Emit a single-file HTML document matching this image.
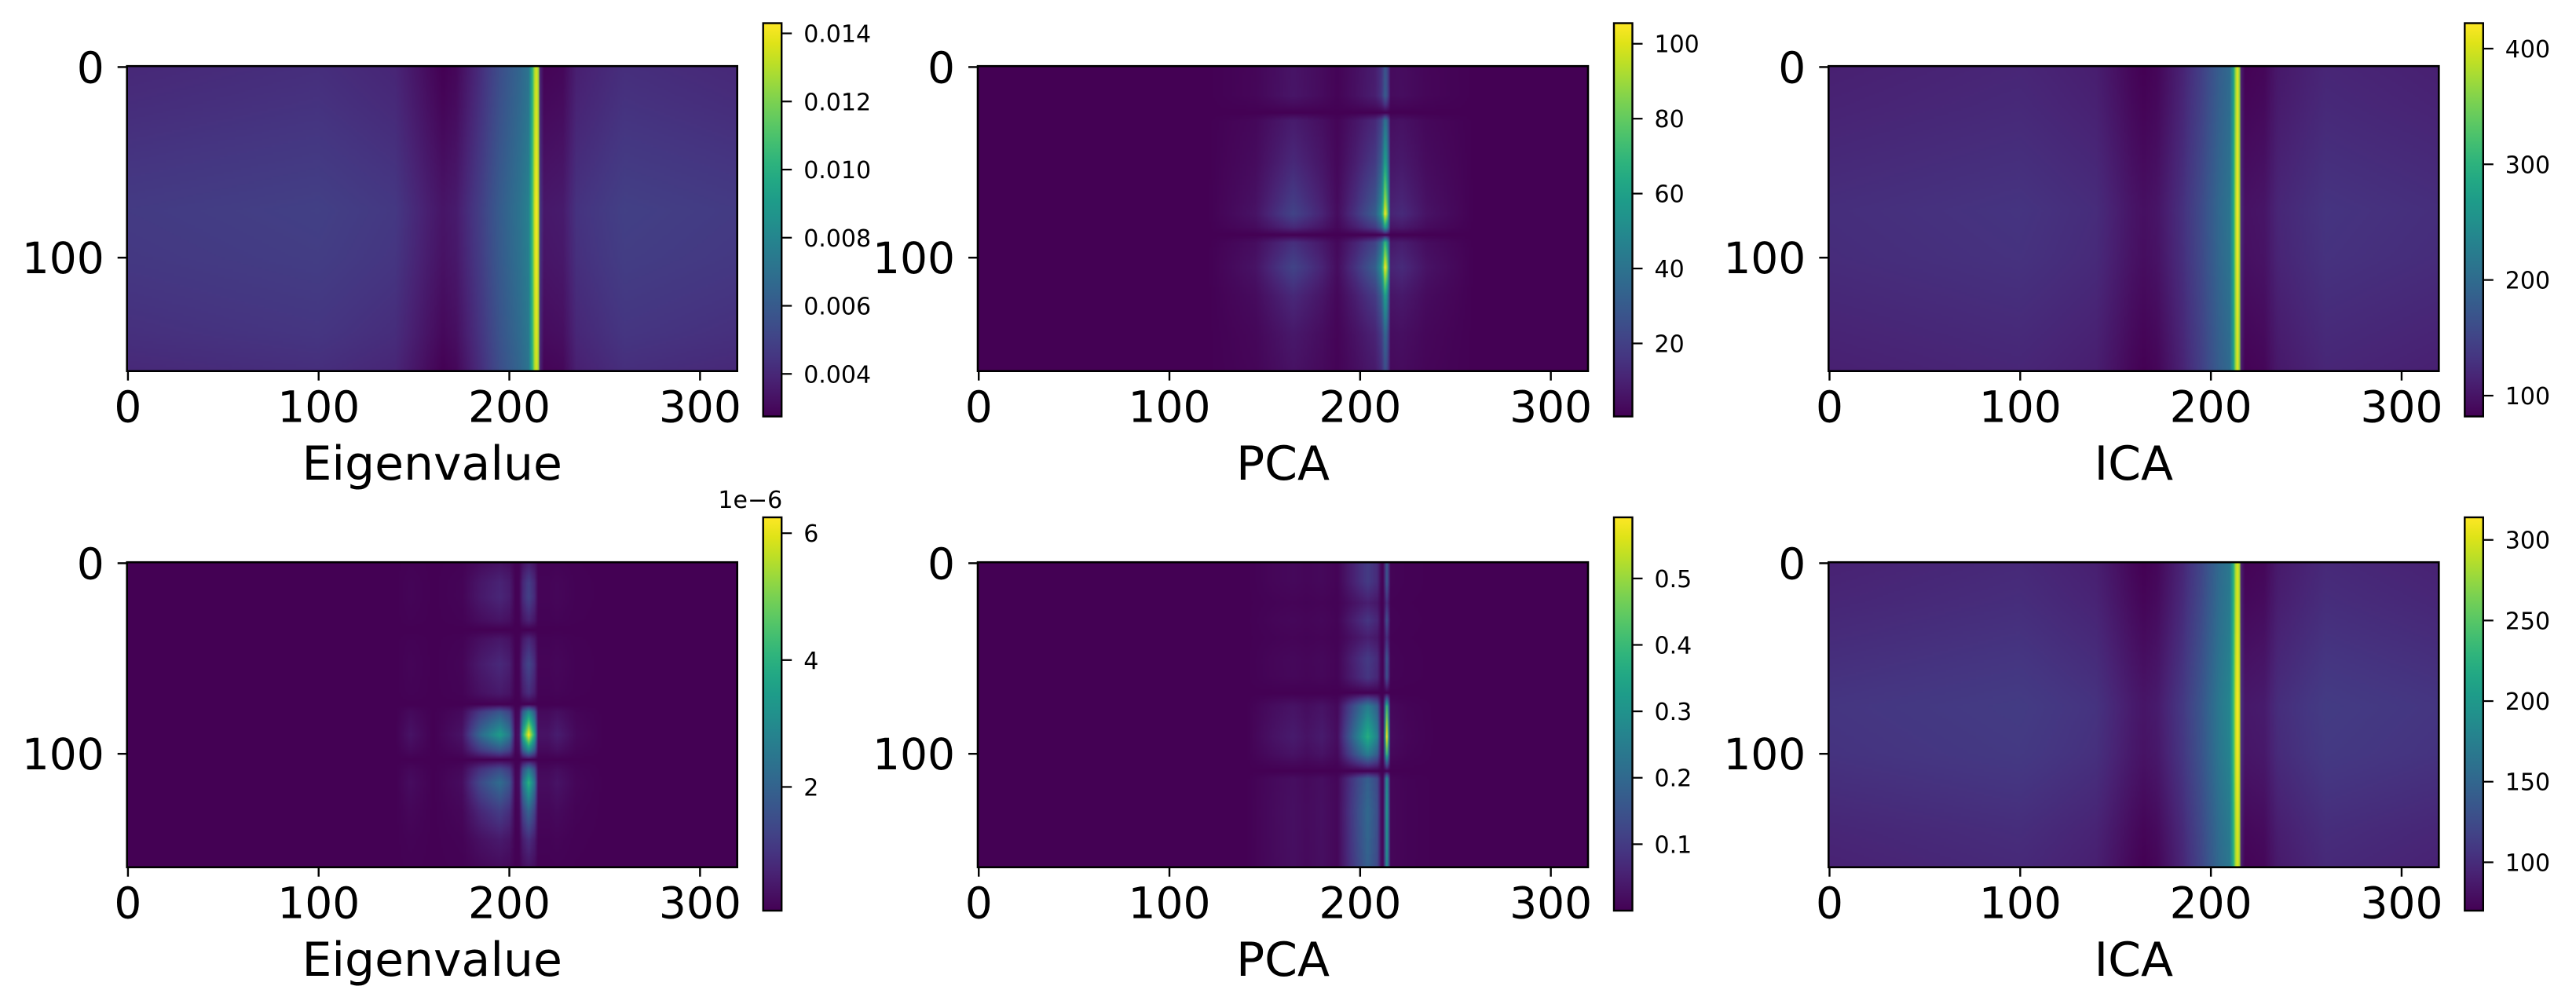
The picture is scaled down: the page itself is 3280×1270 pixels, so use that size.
<!DOCTYPE html>
<html>
<head>
<meta charset="utf-8">
<style>
  html,body{margin:0;padding:0;background:#fff;}
  #fig{position:relative;width:3280px;height:1270px;overflow:hidden;background:#fff;}
  canvas.hm{position:absolute;image-rendering:auto;}
  .cb{position:absolute;}
  svg#overlay{position:absolute;left:0;top:0;}
  text{font-family:"DejaVu Sans","Liberation Sans",sans-serif;fill:#000;}
</style>
</head>
<body>
<div id="fig">
  <svg id="overlay" width="3280" height="1270"></svg>
</div>
<script>
// ===== DATA (knot profiles) =====
// Panel 1: Eigenvalue (top) - additive model
const eigTopColX = [0,100,140,158,165,172,185,195,205,210,212,213,214,215,216,218,228,235,260,320];
const eigTopColV = [0.0044,0.0046,0.0043,0.0034,0.0031,0.0033,0.0046,0.0058,0.0068,0.0075,0.0105,0.0130,0.0140,0.0130,0.0042,0.0032,0.0033,0.0041,0.0046,0.0044];
const eigTopRowY = [0,20,75,100,140,160];
const eigTopRowV = [-0.00035,-0.0002,0.0003,0.0002,-0.0001,-0.00035];

// Panel 2: PCA (top) - multiplicative model
const pcaTopColX = [0,120,145,165,180,188,198,208,211,212,213,214,215,216,222,235,260,320];
const pcaTopColV = [0.0,0.0,0.05,0.2,0.1,0.03,0.15,0.3,0.5,0.7,1.0,0.85,0.5,0.1,0.12,0.05,0.0,0.0];
const pcaTopRowY = [0,15,20,24,28,50,70,77,84,88,92,105,120,140,160];
const pcaTopRowV = [28,30,15,0,40,60,90,105,60,0,70,105,60,35,25];

// Panel 3: ICA (top) - additive model
const icaTopColX = [0,100,140,158,165,172,185,195,205,210,212,213,214,215,216,218,228,235,260,320];
const icaTopColV = [118,124,116,94,88,93,120,150,190,205,280,370,414,370,112,90,93,110,124,118];
const icaTopRowY = [0,20,75,100,140,160];
const icaTopRowV = [-6,-3,8,6,-2,-6];

// Panel 4: Eigenvalue (bottom) - multiplicative model (units 1e-6)
const eigBotColX = [0,140,148,160,175,185,195,200,203,205,207,210,213,215,220,225,235,250,320];
const eigBotColV = [0,0,0.05,0,0.05,0.35,0.55,0.4,0.02,0.05,0.6,1.0,0.6,0.05,0.05,0.08,0.02,0,0];
const eigBotRowY = [0,10,18,30,35,40,53,68,74,78,90,98,103,108,115,130,145,160];
const eigBotRowV = [0.5,1.1,1.2,0.6,0,0.7,1.3,0.8,0,3,6.2,3,0,2.5,4,2,0.8,0.3];

// Panel 5: PCA (bottom) - multiplicative model
const pcaBotColX = [0,140,155,165,172,180,188,194,204,209,211,212,213,214,215,216,225,240,320];
const pcaBotColV = [0,0,0.08,0.12,0.08,0.12,0.05,0.4,1.0,0.7,0.1,0.05,0.8,1.6,0.8,0.05,0.02,0,0];
const pcaBotRowY = [0,10,21,30,39,50,60,68,75,91,100,109,113,130,150,160];
const pcaBotRowV = [0.1,0.1,0.05,0.09,0.05,0.1,0.09,0,0.25,0.37,0.25,0,0.18,0.2,0.19,0.18];

// Panel 6: ICA (bottom) - additive model
const icaBotColX = [0,100,140,158,165,172,185,195,205,210,212,213,214,215,216,218,228,235,260,320];
const icaBotColV = [98,103,96,80,75,79,100,125,160,172,230,285,305,285,93,77,79,92,103,98];
const icaBotRowY = [0,20,75,100,140,160];
const icaBotRowV = [-5,-2,9,7,-2,-5];

// Tick labels
const xTickVals = [0,100,200,300];
const yTickVals = [0,100];
const cbTicks1 = [0.004,0.006,0.008,0.010,0.012,0.014];
const cbTicks2 = [20,40,60,80,100];
const cbTicks3 = [100,200,300,400];
const cbTicks4 = [2,4,6];
const cbTicks5 = [0.1,0.2,0.3,0.4,0.5];
const cbTicks6 = [100,150,200,250,300];
const titles = ["Eigenvalue","PCA","ICA","Eigenvalue","PCA","ICA"];

// ===== RENDERING =====
const NX=320, NY=160;
const VIR=[[68,1,84],[71,19,101],[72,36,117],[69,53,129],[65,68,135],[59,82,139],[53,95,141],[47,108,142],[42,120,142],[37,132,142],[33,145,140],[30,156,137],[34,168,132],[47,180,124],[68,191,112],[94,201,98],[122,209,81],[155,217,60],[189,223,38],[223,227,24],[253,231,37]];
function viridis(t){
  t=Math.max(0,Math.min(1,t));
  const f=t*(VIR.length-1), i=Math.min(VIR.length-2,Math.floor(f)), u=f-i;
  const a=VIR[i],b=VIR[i+1];
  return [a[0]+(b[0]-a[0])*u,a[1]+(b[1]-a[1])*u,a[2]+(b[2]-a[2])*u];
}
function prof(xs,vs,x){
  if(x<=xs[0]) return vs[0];
  for(let k=1;k<xs.length;k++){ if(x<=xs[k]){const u=(x-xs[k-1])/(xs[k]-xs[k-1]);return vs[k-1]+(vs[k]-vs[k-1])*u;} }
  return vs[vs.length-1];
}
const panels=[
  {cx:eigTopColX,cv:eigTopColV,ry:eigTopRowY,rv:eigTopRowV,mode:'sum',base:0,ticks:cbTicks1,fmt:v=>v.toFixed(3)},
  {cx:pcaTopColX,cv:pcaTopColV,ry:pcaTopRowY,rv:pcaTopRowV,mode:'prod',base:0.5,ticks:cbTicks2,fmt:v=>String(v)},
  {cx:icaTopColX,cv:icaTopColV,ry:icaTopRowY,rv:icaTopRowV,mode:'sum',base:0,ticks:cbTicks3,fmt:v=>String(v)},
  {cx:eigBotColX,cv:eigBotColV,ry:eigBotRowY,rv:eigBotRowV,mode:'prod',base:0.05,ticks:cbTicks4,fmt:v=>String(v),offset:"1e\u22126"},
  {cx:pcaBotColX,cv:pcaBotColV,ry:pcaBotRowY,rv:pcaBotRowV,mode:'prod',base:0.0,ticks:cbTicks5,fmt:v=>v.toFixed(1)},
  {cx:icaBotColX,cv:icaBotColV,ry:icaBotRowY,rv:icaBotRowV,mode:'sum',base:0,ticks:cbTicks6,fmt:v=>String(v)}
];
const colLeft=[161.7,1245,2328.3], rowTop=[84.2,716.2];
const AW=777, AH=388.5, sx=AW/NX, sy=AH/NY;
const cbTop=[29.5,659], cbH=501, cbW=23.5, cbOff=810;
const fig=document.getElementById('fig');
const svg=document.getElementById('overlay');
const NS='http://www.w3.org/2000/svg';
function mk(tag,attrs){const e=document.createElementNS(NS,tag);for(const k in attrs)e.setAttribute(k,attrs[k]);svg.appendChild(e);return e;}

panels.forEach((p,idx)=>{
  const col=idx%3,row=Math.floor(idx/3);
  const L=colLeft[col],T=rowTop[row];
  const field=new Float32Array(NX*NY);let vmin=Infinity,vmax=-Infinity;
  for(let j=0;j<NY;j++){const r=prof(p.ry,p.rv,j);
    for(let i=0;i<NX;i++){const c=prof(p.cx,p.cv,i);
      const v=p.mode==='sum'?c+r:p.base+c*r;field[j*NX+i]=v;if(v<vmin)vmin=v;if(v>vmax)vmax=v;}}
  const cv=document.createElement('canvas');cv.width=NX;cv.height=NY;cv.className='hm';
  cv.style.left=L+'px';cv.style.top=T+'px';cv.style.width=AW+'px';cv.style.height=AH+'px';
  
  
  const ctx=cv.getContext('2d');const im=ctx.createImageData(NX,NY);
  for(let k=0;k<NX*NY;k++){const c=viridis((field[k]-vmin)/(vmax-vmin));im.data[k*4]=c[0];im.data[k*4+1]=c[1];im.data[k*4+2]=c[2];im.data[k*4+3]=255;}
  ctx.putImageData(im,0,0);
  fig.insertBefore(cv,svg);
  const fr=mk('rect',{x:L,y:T,width:AW,height:AH,fill:'none',stroke:'#000','stroke-width':2.6});
  
  
  xTickVals.forEach(v=>{
    const x=L+(v+0.5)*sx;
    const tl=mk('line',{x1:x,y1:T+AH,x2:x,y2:T+AH+12,stroke:'#000','stroke-width':2.4});
    
    
    const t=mk('text',{x:x,y:T+AH+65,'text-anchor':'middle','font-size':55});
    t.textContent=String(v);
    
    
  });
  yTickVals.forEach(v=>{
    const y=T+(v+0.5)*sy;
    const tl=mk('line',{x1:L-12,y1:y,x2:L,y2:y,stroke:'#000','stroke-width':2.4});
    
    
    const t=mk('text',{x:L-29,y:y+20,'text-anchor':'end','font-size':55});
    t.textContent=String(v);
    
    
  });
  const xl=mk('text',{x:L+AW/2,y:T+527,'text-anchor':'middle','font-size':60});
  xl.textContent=titles[idx];
  
  
  const cbL=L+cbOff, cbT=cbTop[row];
  const cb=document.createElement('div');cb.className='cb';
  
  
  let stops=[];for(let s=0;s<=20;s++){const c=viridis(1-s/20);stops.push('rgb('+c.map(Math.round).join(',')+') '+(s*5)+'%');}
  cb.style.cssText='left:'+cbL+'px;top:'+cbT+'px;width:'+cbW+'px;height:'+cbH+'px;background:linear-gradient(to bottom,'+stops.join(',')+');';
  fig.insertBefore(cb,svg);
  const cbf=mk('rect',{x:cbL,y:cbT,width:cbW,height:cbH,fill:'none',stroke:'#000','stroke-width':2.4});
  
  
  p.ticks.forEach(v=>{
    const y=cbT+cbH-(v-vmin)/(vmax-vmin)*cbH;
    const tl=mk('line',{x1:cbL+cbW,y1:y,x2:cbL+cbW+13,y2:y,stroke:'#000','stroke-width':2.2});
    
    
    const t=mk('text',{x:cbL+cbW+28,y:y+11,'font-size':30});
    t.textContent=p.fmt(v);
    
    
  });
  if(p.offset){
    const t=mk('text',{x:cbL+cbW+1,y:cbT-12,'text-anchor':'end','font-size':30});
    t.textContent=p.offset;
    
    
  }
});
</script>
</body>
</html>
